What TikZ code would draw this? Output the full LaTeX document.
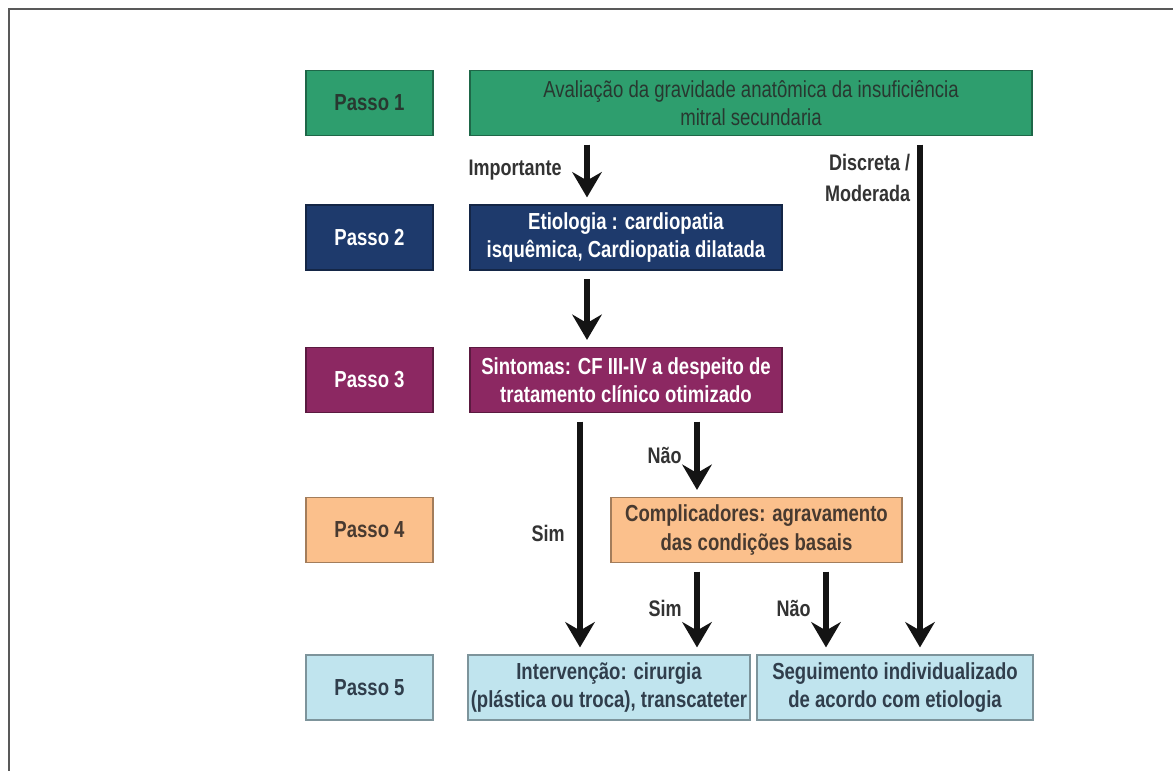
\documentclass[tikz,border=0pt]{standalone}
\usepackage{fontspec}
\setmainfont[FakeStretch=0.8]{Liberation Sans}
\usetikzlibrary{arrows.meta}

\definecolor{verde}{RGB}{46,158,110}
\definecolor{azul}{RGB}{30,58,108}
\definecolor{roxo}{RGB}{140,40,98}
\definecolor{laranja}{RGB}{251,192,140}
\definecolor{celeste}{RGB}{192,228,238}
\definecolor{tverde}{RGB}{40,56,48}
\definecolor{tlaranja}{RGB}{72,58,48}
\definecolor{tceleste}{RGB}{48,62,76}
\definecolor{traco}{RGB}{20,20,20}

\tikzset{
    passo/.style 2 args={rectangle, draw=#1!65!black, line width=0.8pt, fill=#1, text=#2,
        minimum width=127*0.025cm, minimum height=65*0.025cm, inner sep=2pt,
        font=\bfseries\fontsize{16.5}{19}\selectfont},
    caixa/.style 2 args={rectangle, draw=#1!65!black, line width=0.8pt, fill=#1, text=#2,
        minimum height=65*0.025cm, inner sep=2pt, align=center,
        font=\bfseries\fontsize{16.5}{20}\selectfont},
    seta/.style={draw=traco, line width=4pt, shorten <=6pt, shorten >=5pt,
        -{Stealth[length=18pt, width=21pt, inset=6pt]}},
    rotulo/.style={text=black!80, font=\bfseries\fontsize{16}{22}\selectfont, inner sep=9pt}
}

\begin{document}
\begin{tikzpicture}[x=0.025cm, y=-0.025cm]

    \fill[white] (0,0) rectangle (1173,771);
    \useasboundingbox (0,0) rectangle (1173,771);
    \draw[black!65, line width=1.4pt] (9,771) -- (9,9) -- (1173,9);

    %step labels
    \foreach \n/\y/\fc/\tc in {1/103/verde/tverde, 2/237.5/azul/white, 3/380/roxo/white,
                               4/530/laranja/tlaranja, 5/687.5/celeste/tceleste}{
        \node[passo={\fc}{\tc}] (p\n) at (369.5,\y) {Passo \n};
    };

    %step 1
    \node[caixa={verde}{tverde}, minimum width=562*0.025cm, font=\fontsize{16.5}{20}\selectfont]
        (avaliacao) at (751,103) {Avaliação da gravidade anatômica da insuficiência\\mitral secundaria};

    %step 2
    \node[caixa={azul}{white}, minimum width=312*0.025cm] (etiologia) at (626,237.5)
        {Etiologia : cardiopatia\\isquêmica, Cardiopatia dilatada};

    %step 3
    \node[caixa={roxo}{white}, minimum width=312*0.025cm] (sintomas) at (626,380)
        {Sintomas: CF III-IV a despeito de\\tratamento clínico otimizado};

    %step 4
    \node[caixa={laranja}{tlaranja}, minimum width=291*0.025cm] (complic) at (756.5,530)
        {Complicadores: agravamento\\das condições basais};

    %step 5
    \node[caixa={celeste}{tceleste}, minimum width=278*0.025cm] (interv) at (609,687.5)
        {Intervenção: cirurgia\\(plástica ou troca), transcateter};
    \node[caixa={celeste}{tceleste}, minimum width=276*0.025cm] (seguim) at (895,687.5)
        {Seguimento individualizado\\de acordo com etiologia};

    %arrow columns
    \coordinate (c1) at (587,0);
    \coordinate (c2) at (920,0);
    \coordinate (c3) at (580,0);
    \coordinate (c4) at (697,0);
    \coordinate (c5) at (826,0);

    %connections
    \draw[seta] (avaliacao.south -| c1) -- (etiologia.north -| c1)
        node[rotulo, midway, left, inner sep=16pt] {Importante};
    \draw[seta] (avaliacao.south -| c2) -- (seguim.north -| c2)
        node[rotulo, pos=0.08, left, align=right, inner sep=5pt] {Discreta /\\Moderada};
    \draw[seta] (etiologia.south -| c1) -- (sintomas.north -| c1);
    \draw[seta] (sintomas.south -| c3) -- (interv.north -| c3) node[rotulo, midway, left] {Sim};
    \draw[seta] (sintomas.south -| c4) -- (complic.north -| c4) node[rotulo, midway, left] {Não};
    \draw[seta] (complic.south -| c4) -- (interv.north -| c4) node[rotulo, midway, left] {Sim};
    \draw[seta] (complic.south -| c5) -- (seguim.north -| c5) node[rotulo, midway, left] {Não};

\end{tikzpicture}
\end{document}
